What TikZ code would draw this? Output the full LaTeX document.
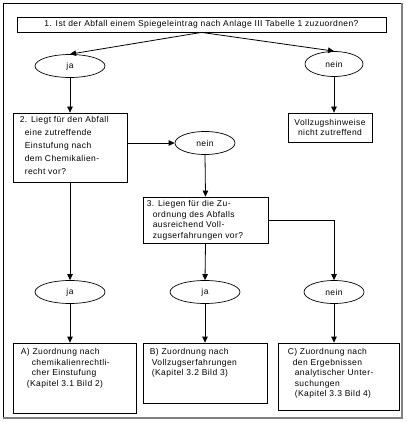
\documentclass[tikz,border=0pt]{standalone}
\usepackage{fontspec}
\setmainfont{Liberation Sans}[LetterSpace=5]
\usetikzlibrary{positioning,shapes.geometric,arrows.meta}

\begin{document}
\begin{tikzpicture}[x=1pt,y=-1pt,
    font=\fontsize{8.5}{10.5}\selectfont,
    >={Triangle[width=5.5pt,length=6pt]},
    box/.style={draw, line width=0.8pt, inner sep=0pt},
    oval/.style={draw, ellipse, line width=0.7pt, inner sep=0pt, minimum height=23pt},
    txt/.style={align=left, inner sep=0pt},
    conn/.style={->, line width=0.8pt}]
    \useasboundingbox (0,0) rectangle (406,422);

    % Frame
    \draw[line width=0.8pt] (3,418) -- (3,3) -- (402,3);
    \draw[gray, line width=1.6pt] (402,3) -- (402,418) -- (3,418);

    % Nodes
    \node[box, minimum width=369, minimum height=15] (frage1) at (201.5,24.5) {1. Ist der Abfall einem Spiegeleintrag nach Anlage III Tabelle 1 zuzuordnen?};
    \node[oval, minimum width=70] (ja1) at (70,66) {ja};
    \node[oval, minimum width=58, minimum height=25] (nein1) at (334,64) {nein};
    \node[box, minimum width=84, minimum height=29, align=center] (hinweise) at (330,127.5) {Vollzugshinweise\\nicht zutreffend};

    \node[box, minimum width=114, minimum height=69] (frage2) at (70,147.5) {};
    \node[txt, font=\fontsize{8.5}{12.8}\selectfont, below right=4pt and 7pt of frage2.north west] (text2) {2. Liegt für den Abfall\\\hspace*{5pt}eine zutreffende\\\hspace*{5pt}Einstufung nach\\\hspace*{5pt}dem Chemikalien-\\\hspace*{5pt}recht vor?};
    \node[oval, minimum width=60] (nein2) at (205,143) {nein};

    \node[box, minimum width=125, minimum height=46] (frage3) at (205.5,220) {};
    \node[txt, below right=4pt and 4pt of frage3.north west] (text3) {3. Liegen für die Zu-\\\hspace*{6pt}ordnung des Abfalls\\\hspace*{6pt}ausreichend Voll-\\\hspace*{6pt}zugserfahrungen vor?};

    \node[oval, minimum width=70] (ja2) at (70,292) {ja};
    \node[oval, minimum width=70] (ja3) at (205,292) {ja};
    \node[oval, minimum width=60] (nein3) at (334,292) {nein};

    \node[box, minimum width=123, minimum height=70] (zuordA) at (74.5,378) {};
    \node[txt, below right=6pt and 8pt of zuordA.north west] (textA) {A) Zuordnung nach\\\hspace*{11pt}chemikalienrechtli-\\\hspace*{11pt}cher Einstufung\\\hspace*{6pt}(Kapitel 3.1 Bild 2)};
    \node[box, minimum width=124, minimum height=60] (zuordB) at (205,373) {};
    \node[txt, below right=6pt and 7pt of zuordB.north west] (textB) {B) Zuordnung nach\\\hspace*{2pt}Vollzugserfahrungen\\\hspace*{2pt}(Kapitel 3.2 Bild 3)};
    \node[box, minimum width=121, minimum height=67] (zuordC) at (338.5,376.5) {};
    \node[txt, below right=6pt and 10pt of zuordC.north west] (textC) {C) Zuordnung nach\\\hspace*{5pt}den Ergebnissen\\\hspace*{7pt}analytischer Unter-\\\hspace*{7pt}suchungen\\\hspace*{7pt}(Kapitel 3.3 Bild 4)};

    % Arrows
    \draw[conn] (frage1.south) -- (ja1.north);
    \draw[conn] (frage1.south) -- (nein1.north);
    \draw[conn] (nein1.south) -- (nein1.south |- hinweise.north);
    \draw[conn] (ja1.south) -- (frage2.north);
    \draw[conn] (frage2.east |- nein2.west) -- (nein2.west);
    \draw[conn] (nein2.south) -- (frage3.north);
    \draw[conn] (frage2.south) -- (ja2.north);
    \draw[conn] (frage3.south) -- (ja3.north);
    \draw[conn] (frage3.east) -| (nein3.north);
    \draw[conn] (ja2.south) -- (ja2.south |- zuordA.north);
    \draw[conn] (ja3.south) -- (ja3.south |- zuordB.north);
    \draw[conn] (nein3.south) -- (nein3.south |- zuordC.north);
\end{tikzpicture}
\end{document}
